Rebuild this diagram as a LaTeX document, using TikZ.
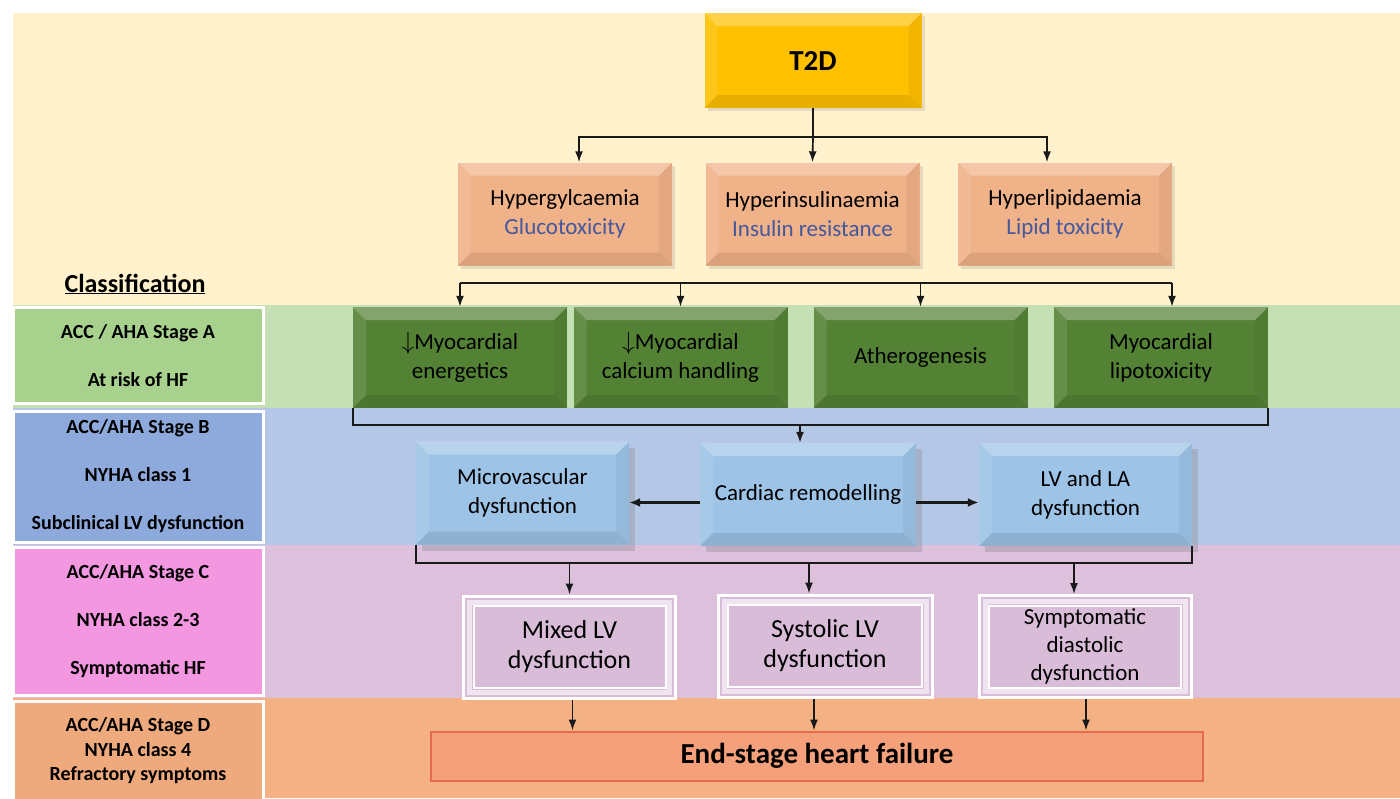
\documentclass[tikz,border=0pt]{standalone}
\usepackage{fontspec}
\setmainfont{Carlito}
\usetikzlibrary{arrows.meta, shadows}

\definecolor{cream}{HTML}{FFF2CC}
\definecolor{greenband}{HTML}{C5E0B4}
\definecolor{blueband}{HTML}{B4C7E7}
\definecolor{purpband}{HTML}{DCC0DC}
\definecolor{orangeband}{HTML}{F4B183}
\definecolor{stageA}{HTML}{A9D18E}
\definecolor{stageB}{HTML}{8EA9DB}
\definecolor{stageC}{HTML}{F297E0}
\definecolor{stageD}{HTML}{EEAA7D}
\definecolor{goldbox}{HTML}{FFC000}
\definecolor{peachbox}{HTML}{F0B288}
\definecolor{greenbox}{HTML}{548235}
\definecolor{bluebox}{HTML}{9DC3E6}
\definecolor{purpbox}{HTML}{D9BDD8}
\definecolor{esfbox}{HTML}{F4A07A}
\definecolor{esfline}{HTML}{E46C4A}
\definecolor{subblue}{HTML}{44589E}

\tikzset{
  box/.style={inner sep=0pt, align=center, font=\fontsize{23}{29}\selectfont},
  bevel/.style={path picture={
    \coordinate (pa) at (path picture bounding box.south west);
    \coordinate (pb) at (path picture bounding box.north east);
    \fill[white, opacity=.28] (pa |- pb) -- (pb) -- ([xshift=-#1, yshift=-#1]pb) -- ([xshift=#1, yshift=-#1]pa |- pb) -- cycle;
    \fill[white, opacity=.10] (pa |- pb) -- (pa) -- ([xshift=#1, yshift=#1]pa) -- ([xshift=#1, yshift=-#1]pa |- pb) -- cycle;
    \fill[black, opacity=.05] (pb) -- (pb |- pa) -- ([xshift=-#1, yshift=#1]pb |- pa) -- ([xshift=-#1, yshift=-#1]pb) -- cycle;
    \fill[black, opacity=.09] (pa) -- (pb |- pa) -- ([xshift=-#1, yshift=#1]pb |- pa) -- ([xshift=#1, yshift=#1]pa) -- cycle;
  }},
  bevel/.default=13pt,
  stage/.style={inner sep=0pt, align=center, draw=white, line width=3pt, minimum width=250pt,
    font=\fontsize{20}{48}\selectfont\bfseries},
  peach/.style={box, bevel, fill=peachbox, minimum width=214pt, minimum height=103pt,
    drop shadow={opacity=.2, shadow xshift=3pt, shadow yshift=-3pt}},
  gbox/.style={box, bevel, fill=greenbox, minimum width=214pt, minimum height=101pt},
  bbox/.style={box, bevel, fill=bluebox, minimum width=214pt, minimum height=103pt,
    drop shadow={opacity=.3, shadow xshift=6pt, shadow yshift=-6pt}},
  pbox/.style={box, fill=purpbox, draw=white, line width=3pt, minimum width=212pt, minimum height=102pt,
    font=\fontsize{26}{30}\selectfont, path picture={
    \coordinate (pa) at (path picture bounding box.south west);
    \coordinate (pb) at (path picture bounding box.north east);
    \draw[white, opacity=.6, line width=5pt] ([xshift=6pt, yshift=6pt]pa) rectangle ([xshift=-6pt, yshift=-6pt]pb);
    \draw[white, line width=2pt] ([xshift=10pt, yshift=10pt]pa) rectangle ([xshift=-10pt, yshift=-10pt]pb);
  }},
  line/.style={line width=1.7pt, black!90},
  arr/.style={line, -{Latex[length=11pt, width=8pt]}},
}

\begin{document}
\begin{tikzpicture}[x=1pt, y=-1pt]
  \useasboundingbox (0,0) rectangle (1400,798);
  % background bands
  \fill[white] (0,0) rectangle (1400,798);
  \fill[cream] (13,13) rectangle (1400,305);
  \fill[greenband] (13,305) rectangle (1400,408);
  \fill[blueband] (13,408) rectangle (1400,545);
  \fill[purpband] (13,545) rectangle (1400,698);
  \fill[orangeband] (13,698) rectangle (1400,798);

  % classification column
  \node[inner sep=0pt, font=\fontsize{26}{30}\selectfont\bfseries] (cls) at (135,284) {\underline{Classification}};
  \node[stage, fill=stageA, minimum height=96pt] (sta) at (138,355.5) {ACC / AHA Stage A\\At risk of HF};
  \node[stage, fill=stageB, minimum height=131pt] (stb) at (138,476.5) {ACC/AHA Stage B\\NYHA class 1\\Subclinical LV dysfunction};
  \node[stage, fill=stageC, minimum height=148pt] (stc) at (138,621) {ACC/AHA Stage C\\NYHA class 2-3\\Symptomatic HF};
  \node[stage, fill=stageD, minimum height=100pt, font=\fontsize{20}{24.5}\selectfont\bfseries] (std) at (138,751) {ACC/AHA Stage D\\NYHA class 4\\Refractory symptoms};

  % top
  \node[box, bevel, fill=goldbox, minimum width=217pt, minimum height=95pt, font=\fontsize{29}{34}\selectfont\bfseries,
    drop shadow={opacity=.2, shadow xshift=3pt, shadow yshift=-3pt}] (t2d) at (813,60.5) {T2D};

  % metabolic drivers
  \node[peach] (hg) at (565,214) {Hypergylcaemia\\\textcolor{subblue}{Glucotoxicity}};
  \node[peach] (hi) at (812.5,214) {Hyperinsulinaemia\\\textcolor{subblue}{Insulin resistance}};
  \node[peach] (hl) at (1065,214) {Hyperlipidaemia\\\textcolor{subblue}{Lipid toxicity}};

  % myocardial effects
  \node[gbox] (me) at (460,357.5) {$\downarrow$Myocardial\\energetics};
  \node[gbox] (mc) at (680.5,357.5) {$\downarrow$Myocardial\\calcium handling};
  \node[gbox] (ath) at (920.5,357.5) {Atherogenesis};
  \node[gbox] (ml) at (1161,357.5) {Myocardial\\lipotoxicity};

  % remodelling
  \node[bbox, minimum width=213pt] (mv) at (522.5,493) {Microvascular\\dysfunction};
  \node[bbox, minimum width=216pt] (cr) at (808,494.5) {Cardiac remodelling};
  \node[bbox, minimum width=213pt] (lv) at (1085.5,494.5) {LV and LA\\dysfunction};

  % heart failure phenotypes
  \node[pbox] (mx) at (569.5,647) {Mixed LV\\dysfunction};
  \node[pbox, minimum width=214pt] (sy) at (825,646) {Systolic LV\\dysfunction};
  \node[pbox, font=\fontsize{23}{28}\selectfont] (sd) at (1085,646.5) {Symptomatic\\diastolic\\dysfunction};

  \node[box, fill=esfbox, draw=esfline, line width=2pt, minimum width=772pt, minimum height=49pt,
    font=\fontsize{29}{34}\selectfont\bfseries] (esf) at (817,756) {End-stage heart failure};

  % connectors
  \coordinate (spl) at (813,137);
  \draw[line] (t2d.south) -- (spl);
  \draw[arr] (spl) -| ([xshift=14pt]hg.north);
  \draw[arr] (spl) -- (hi.north);
  \draw[arr] (spl) -| ([xshift=-18pt]hl.north);

  \coordinate (bus) at (460,283);
  \draw[line] (bus) -- (bus -| 1172,0);
  \foreach \n/\dx in {me/0, mc/0, ath/0, ml/11}
    \draw[arr] ([xshift=\dx pt]\n.north |- bus) -- ([xshift=\dx pt]\n.north);

  \draw[line] (me.south west) -- ++(0,17) coordinate (gb) -| (ml.south east);
  \draw[arr] ([xshift=-8pt]cr.north |- gb) -- ([xshift=-8pt]cr.north);

  \draw[line, line width=2.4pt, -{Latex[length=11pt, width=9pt]}] ([yshift=-8pt]cr.west) -- ([yshift=-8pt]cr.west -| mv.east);
  \draw[line, line width=2.4pt, -{Latex[length=11pt, width=9pt]}] ([yshift=-8pt]cr.east) -- ([yshift=-8pt]cr.east -| lv.west);

  \draw[line] (mv.south west) -- ++(0,18) coordinate (bb) -| (lv.south east);
  \foreach \n/\dx in {mx/0, sy/-16, sd/-11}
    \draw[arr] ([xshift=\dx pt]\n.north |- bb) -- ([xshift=\dx pt]\n.north);

  \foreach \n/\dx in {mx/3, sy/-11, sd/1}
    \draw[arr] ([xshift=\dx pt]\n.south) -- ([xshift=\dx pt]\n.south |- esf.north);
\end{tikzpicture}
\end{document}
